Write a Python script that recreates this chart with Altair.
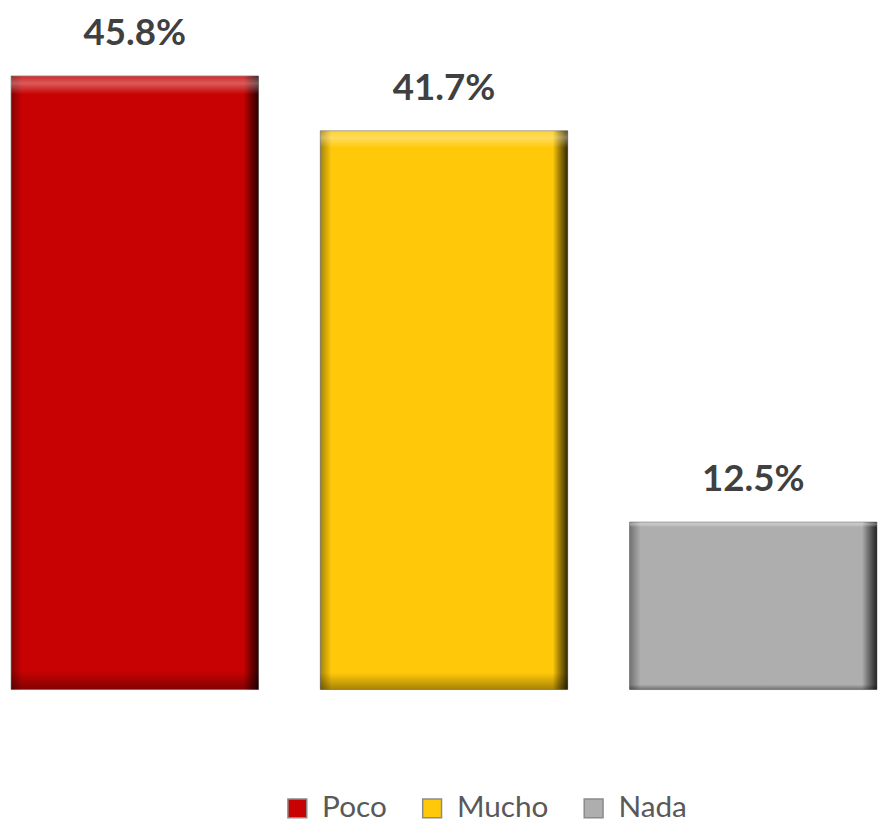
import altair as alt
import pandas as pd

# Data
categories = ["Poco", "Mucho", "Nada"]
values = [45.8, 41.7, 12.5]

# Styles
palette = ["#C80202", "#FFC90A", "#AEAEAE"]

df = pd.DataFrame({
    "cat": categories,
    "value": values,
    "label": [f"{v:.1f}%" for v in values],
})

x_enc = alt.X("cat:N", axis=None,
              scale=alt.Scale(domain=categories, paddingInner=0.2, paddingOuter=0.01))
y_enc = alt.Y("value:Q", axis=None,
              scale=alt.Scale(domain=[-10.13, 50.59], nice=False, zero=False))

base = alt.Chart(df).encode(x=x_enc, y=y_enc, y2=alt.datum(0))

bars = base.mark_bar(stroke="#8a8a8a", strokeWidth=0.8).encode(
    color=alt.Color(
        "cat:N",
        scale=alt.Scale(domain=categories, range=palette),
        legend=alt.Legend(
            title=None,
            orient="none",
            legendX=277,
            legendY=789,
            direction="horizontal",
            symbolType="square",
            symbolSize=361,
            labelFont="Lato",
            labelFontSize=30,
            labelColor="#595959",
            labelOffset=10,
            columnPadding=30,
        ),
    ),
)

side_shade = base.mark_bar(
    color=alt.LinearGradient(
        gradient="linear",
        x1=0, x2=1, y1=0, y2=0,
        stops=[
            alt.GradientStop(color="rgba(0,0,0,0.35)", offset=0),
            alt.GradientStop(color="rgba(0,0,0,0)", offset=0.045),
            alt.GradientStop(color="rgba(0,0,0,0)", offset=0.94),
            alt.GradientStop(color="rgba(0,0,0,0.35)", offset=0.965),
            alt.GradientStop(color="rgba(0,0,0,0.8)", offset=1),
        ],
    )
)

tb_shade = base.mark_bar(
    color=alt.LinearGradient(
        gradient="linear",
        x1=0, x2=0, y1=0, y2=1,
        stops=[
            alt.GradientStop(color="rgba(255,255,255,0.15)", offset=0),
            alt.GradientStop(color="rgba(255,255,255,0.35)", offset=0.012),
            alt.GradientStop(color="rgba(255,255,255,0)", offset=0.03),
            alt.GradientStop(color="rgba(0,0,0,0)", offset=0.97),
            alt.GradientStop(color="rgba(0,0,0,0.35)", offset=1),
        ],
    )
)

labels = base.mark_text(
    dy=-31, baseline="alphabetic", align="center",
    font="Lato", fontSize=37, fontWeight="bold", color="#404040",
).encode(text="label:N")

chart = (
    alt.layer(bars, side_shade, tb_shade, labels)
    .properties(width=880, height=821, padding=0, autosize="none")
    .configure_view(strokeWidth=0)
)

chart.save("out.html", embed_options={"renderer": "svg", "actions": False})
